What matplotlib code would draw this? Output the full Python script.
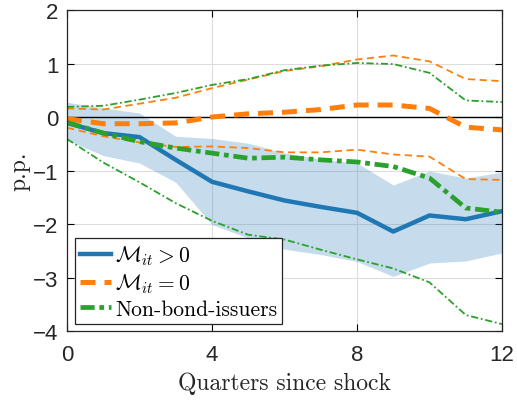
import matplotlib
matplotlib.use("Agg")
import matplotlib.pyplot as plt
import numpy as np

quarters = list(range(13))
m_pos = [-0.11, -0.30, -0.375, -0.80, -1.21, -1.39, -1.56, -1.68, -1.79, -2.14, -1.84, -1.91, -1.76]
m_pos_hi = [0.275, 0.17, 0.075, -0.36, -0.40, -0.49, -0.67, -0.79, -0.86, -1.27, -1.01, -1.14, -1.03]
m_pos_lo = [-0.43, -0.72, -0.86, -1.22, -2.01, -2.26, -2.47, -2.57, -2.70, -2.98, -2.73, -2.69, -2.54]
m_zero = [-0.03, -0.125, -0.125, -0.11, 0.0, 0.06, 0.09, 0.14, 0.225, 0.225, 0.16, -0.19, -0.24]
m_zero_hi = [0.16, 0.14, 0.25, 0.36, 0.54, 0.70, 0.86, 0.95, 1.075, 1.15, 1.04, 0.71, 0.67]
m_zero_lo = [-0.20, -0.36, -0.475, -0.56, -0.55, -0.58, -0.66, -0.66, -0.61, -0.70, -0.74, -1.16, -1.175]
nonbond = [-0.10, -0.30, -0.46, -0.58, -0.675, -0.77, -0.75, -0.80, -0.84, -0.925, -1.14, -1.70, -1.78]
nonbond_hi = [0.19, 0.21, 0.325, 0.45, 0.60, 0.71, 0.875, 0.96, 1.01, 0.99, 0.825, 0.31, 0.28]
nonbond_lo = [-0.41, -0.85, -1.22, -1.61, -1.94, -2.20, -2.29, -2.48, -2.66, -2.83, -3.09, -3.70, -3.87]
xticks = [0, 4, 8, 12]
yticks = [-4, -3, -2, -1, 0, 1, 2]

plt.rcParams['mathtext.fontset'] = 'cm'
serif = ['cmr10', 'DejaVu Serif']
blue, orange, green = '#1f77b4', '#ff7f0e', '#2ca02c'

fig = plt.figure(figsize=(5.17, 4.02), dpi=100)
ax = fig.add_axes([0.1296, 0.174, 0.971 - 0.1296, 0.9726 - 0.174])

ax.fill_between(quarters, m_pos_lo, m_pos_hi, color=blue, alpha=0.25, linewidth=0)
ax.axhline(0, color='black', linewidth=1.0, zorder=1)
ax.plot(quarters, m_zero_hi, color=orange, lw=1.3, ls=(0, (4, 2.5)))
ax.plot(quarters, m_zero_lo, color=orange, lw=1.3, ls=(0, (4, 2.5)))
ax.plot(quarters, nonbond_hi, color=green, lw=1.3, ls=(0, (4, 1.5, 1, 1.5)))
ax.plot(quarters, nonbond_lo, color=green, lw=1.3, ls=(0, (4, 1.5, 1, 1.5)))
l1, = ax.plot(quarters, m_pos, color=blue, lw=3.2, label=r'$\mathcal{M}_{it} > 0$')
l2, = ax.plot(quarters, m_zero, color=orange, lw=3.6, ls=(0, (3, 1.8)), label=r'$\mathcal{M}_{it} = 0$')
l3, = ax.plot(quarters, nonbond, color=green, lw=3.4, ls=(0, (3, 1, 1, 1)), label='Non-bond-issuers')

ax.set_xlim(0, 12)
ax.set_ylim(-4, 2)
ax.set_xticks(xticks)
ax.set_yticks(yticks)
ax.grid(True, color='#dddddd', linewidth=0.8)
ax.set_axisbelow(True)
ax.tick_params(axis='both', direction='in', top=True, right=True, length=5, width=0.8, labelsize=16)
ax.tick_params(axis='x', pad=9)
ax.tick_params(axis='y', pad=6)
for lab in ax.get_xticklabels() + ax.get_yticklabels():
    lab.set_family('Liberation Sans')
    lab.set_color('#262626')
for s in ax.spines.values():
    s.set_linewidth(0.9)
    s.set_color('#262626')

ax.set_xlabel('Quarters since shock', fontsize=17, family=serif, color='#262626', labelpad=5)
ax.set_ylabel('p.p.', fontsize=17, family=serif, color='#262626', labelpad=2)

leg = ax.legend(handles=[l1, l2, l3], loc='lower left', bbox_to_anchor=(0.0185, 0.022),
                borderaxespad=0,
                fancybox=False, framealpha=1, edgecolor='#262626', handlelength=1.4,
                handletextpad=0.2, borderpad=0.25, labelspacing=0.2,
                prop={'family': serif, 'size': 15.5})
leg.get_frame().set_linewidth(0.9)

fig.savefig('out.png', dpi=100)
